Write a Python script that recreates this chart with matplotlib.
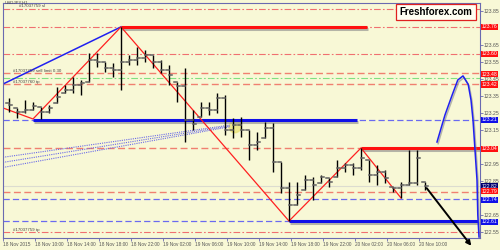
import numpy as np
import pandas as pd
import matplotlib
matplotlib.use('Agg')
import matplotlib.pyplot as plt
import matplotlib.patheffects as pe
import matplotlib.patches as mpatches

plt.rcParams['font.family'] = ['Liberation Sans', 'DejaVu Sans']

# USDJPY H1 bars, 18 Nov 2015 06:00 onwards
high = [123.340, 123.281, 123.328, 123.316, 123.287, 123.299, 123.405, 123.417, 123.464, 123.446,
        123.605, 123.605, 123.552, 123.546, 123.759, 123.594, 123.641, 123.623, 123.594, 123.564,
        123.535, 123.434, 123.517, 123.269, 123.316, 123.316, 123.369, 123.358, 123.222, 123.228,
        123.151, 123.139, 123.198, 123.192, 122.962, 122.844, 122.844, 122.886, 122.874, 122.886,
        122.868, 122.974, 122.956, 122.956, 123.045, 122.974, 122.945, 122.915, 122.815, 122.844,
        123.033, 123.033, 122.844]
low = [123.257, 123.222, 123.251, 123.269, 123.216, 123.251, 123.310, 123.369, 123.369, 123.358,
       123.434, 123.523, 123.493, 123.464, 123.387, 123.535, 123.535, 123.552, 123.517, 123.487,
       123.417, 123.316, 123.080, 123.151, 123.228, 123.240, 123.251, 123.122, 123.104, 123.110,
       122.974, 123.033, 123.104, 122.903, 122.779, 122.614, 122.709, 122.797, 122.738, 122.838,
       122.815, 122.874, 122.903, 122.886, 122.915, 122.844, 122.827, 122.838, 122.785, 122.750,
       122.827, 122.827, 122.797]
close = [123.299, 123.257, 123.269, 123.293, 123.257, 123.281, 123.346, 123.387, 123.417, 123.428,
         123.564, 123.552, 123.517, 123.505, 123.552, 123.564, 123.576, 123.594, 123.552, 123.505,
         123.476, 123.411, 123.210, 123.186, 123.281, 123.269, 123.340, 123.151, 123.181, 123.151,
         123.063, 123.080, 123.163, 122.962, 122.809, 122.709, 122.768, 122.856, 122.827, 122.874,
         122.844, 122.927, 122.945, 122.927, 122.986, 122.886, 122.903, 122.868, 122.809, 122.827,
         122.838, 122.986, 122.821]
first_open = 123.310

# drawn objects
zz_x = [-0.75, 3, 14, 35, 44, 49]
zz_y = [123.281, 123.216, 123.759, 122.614, 123.045, 122.750]
trend_x = [-0.75, 14]
trend_y = [123.422, 123.759]
fan_start = [122.99, 122.96, 122.93]
fan_end = [123.18, 123.175, 123.17]
fan_x = [-0.75, 27.6]
curve_x = [53.5, 54.5, 55.4, 56.1, 56.75, 57.4, 57.75, 58.0, 58.25, 58.5, 58.6, 58.75]
curve_y = [123.080, 123.240, 123.358, 123.446, 123.470, 123.420, 123.328, 123.210, 123.033, 122.856, 122.650, 122.520]

dashdot_red = [123.865, 123.759, 123.599, 122.549]
dashed_red = [123.487, 123.422, 123.045, 122.785]
dashdot_green = [123.458]
dashed_blue = [123.210, 122.744, 122.614]
bid = 122.821

price_tags = ['123.76', '123.60', '123.48', '123.42', '123.21', '123.04', '122.82', '122.79', '122.74', '122.61']
tag_colors = ['#ff1010', '#ff1010', '#ff1010', '#ff1010', '#1010e8', '#ff1010', '#000070', '#ff1010', '#1010e8', '#1010e8']
yticks = [123.85, 123.65, 123.55, 123.45, 123.35, 123.25, 123.15, 122.95, 122.85, 122.65, 122.55]

times = pd.date_range('2015-11-18 06:00', periods=14, freq='4h')
xlabels = [t.strftime('%d %b %H:%M') for t in times]
xlabels[0] = '18 Nov 2015'

bg = '#f8f8d6'
fig = plt.figure(figsize=(5, 2.5), dpi=100, facecolor=bg)
ax = fig.add_axes([3/500, 12/250, 477/500, 235/250], facecolor=bg)
ax.set_xlim(-0.75, 58.875)
ax.set_ylim(122.514, 123.900)

full = [-0.75, 58.875]
for y in dashdot_red:
    ax.plot(full, [y, y], color='#f07070', lw=0.8, dashes=(6, 2, 1.5, 2))
for y in dashed_red:
    ax.plot(full, [y, y], color='#f08070', lw=1.0, dashes=(5, 2.5))
for y in dashdot_green:
    ax.plot(full, [y, y], color='#80e080', lw=0.8, dashes=(6, 2, 1.5, 2))
for y in dashed_blue:
    ax.plot(full, [y, y], color='#6a6af0', lw=0.9, dashes=(5, 2.5))
ax.plot(full, [bid, bid], color='#dcdcd0', lw=0.8)

shadow = [pe.SimpleLineShadow(offset=(0.8, -1.2), shadow_color='#888888', alpha=0.6), pe.Normal()]
ax.plot([14, 44.75], [123.759, 123.759], color='#ff1010', lw=2.2, solid_capstyle='butt', path_effects=shadow)
ax.plot([3, 43.5], [123.210, 123.210], color='#1010e8', lw=2.2, solid_capstyle='butt', path_effects=shadow)
ax.plot([44, 58.875], [123.045, 123.045], color='#ff1010', lw=2.2, solid_capstyle='butt', path_effects=shadow)
ax.plot([35, 58.6], [122.614, 122.614], color='#1010e8', lw=2.2, solid_capstyle='butt', path_effects=shadow)

for a, b in zip(fan_start, fan_end):
    ax.plot(fan_x, [a, b], color='#6a6ae8', lw=0.8, dashes=(1, 1))
ax.add_patch(mpatches.Ellipse((28.25, 123.17), 1.5, 0.07, color='#e8e070', alpha=0.7))

ax.plot(trend_x, trend_y, color='#2020f0', lw=1.1)
ax.plot(zz_x, zz_y, color='#ff2020', lw=0.9)

# OHLC bars
opens = [first_open] + close[:-1]
for i in range(len(high)):
    o = min(max(opens[i], low[i]), high[i])
    ax.plot([i, i], [low[i], high[i]], color='black', lw=1.0, solid_capstyle='butt')
    ax.plot([i - 0.4, i], [o, o], color='#606060', lw=1.1)
    ax.plot([i, i + 0.4], [close[i], close[i]], color='#606060', lw=1.1)

ax.plot(curve_x, curve_y, color='#2020f0', lw=1.1, path_effects=shadow)
ax.annotate('', xy=(58.0, 122.455), xytext=(52.0, 122.821), annotation_clip=False,
            arrowprops=dict(arrowstyle='-|>', color='black', lw=1.4, mutation_scale=7))

# right axis
ax.yaxis.tick_right()
ax.set_yticks(yticks)
ax.set_yticklabels([f'{v:.2f}' for v in yticks])
ax.tick_params(axis='y', labelsize=3.7, labelcolor='#555555', color='#6a6ab0', length=2, width=0.6, pad=0.8)
ax.set_xticks([-0.75 + 4 * j for j in range(len(xlabels))])
ax.set_xticklabels(xlabels, ha='left')
ax.tick_params(axis='x', labelsize=3.4, labelcolor='#555555', color='#6a6ab0', length=2, width=0.6, pad=1)
for s in ax.spines.values():
    s.set_color('#6a6ab0')
    s.set_linewidth(0.8)

tr = ax.get_yaxis_transform()
for t, c in zip(price_tags, tag_colors):
    ax.text(1.003, float(t), t, transform=tr, fontsize=3.7, color='white', va='center', ha='left',
            bbox=dict(boxstyle='square,pad=0.12', fc=c, ec='none'))

# order labels
fig.text(5/500, 1 - 0.5/250, 'USDJPY,H1', fontsize=3.2, color='#444444', va='top')
ax.text(1.2, 123.868, '#17037759 sl', fontsize=3.2, color='#444444', va='bottom')
ax.text(0.5, 123.490, '#17037759 sell limit 0.30', fontsize=3.2, color='#444444', va='bottom')
ax.text(0.5, 123.425, '#17037760 tp', fontsize=3.2, color='#444444', va='bottom')
ax.text(0.5, 122.552, '#17037759 tp', fontsize=3.2, color='#444444', va='bottom')

fig.text(436/500, 1 - 12/250, 'Freshforex.com', fontsize=7, fontweight='bold', color='black',
         ha='center', va='center',
         bbox=dict(boxstyle='square,pad=0.35', fc='#fffff2', ec='#e02020', lw=0.9))

fig.savefig('out.png', dpi=100, facecolor=bg)
